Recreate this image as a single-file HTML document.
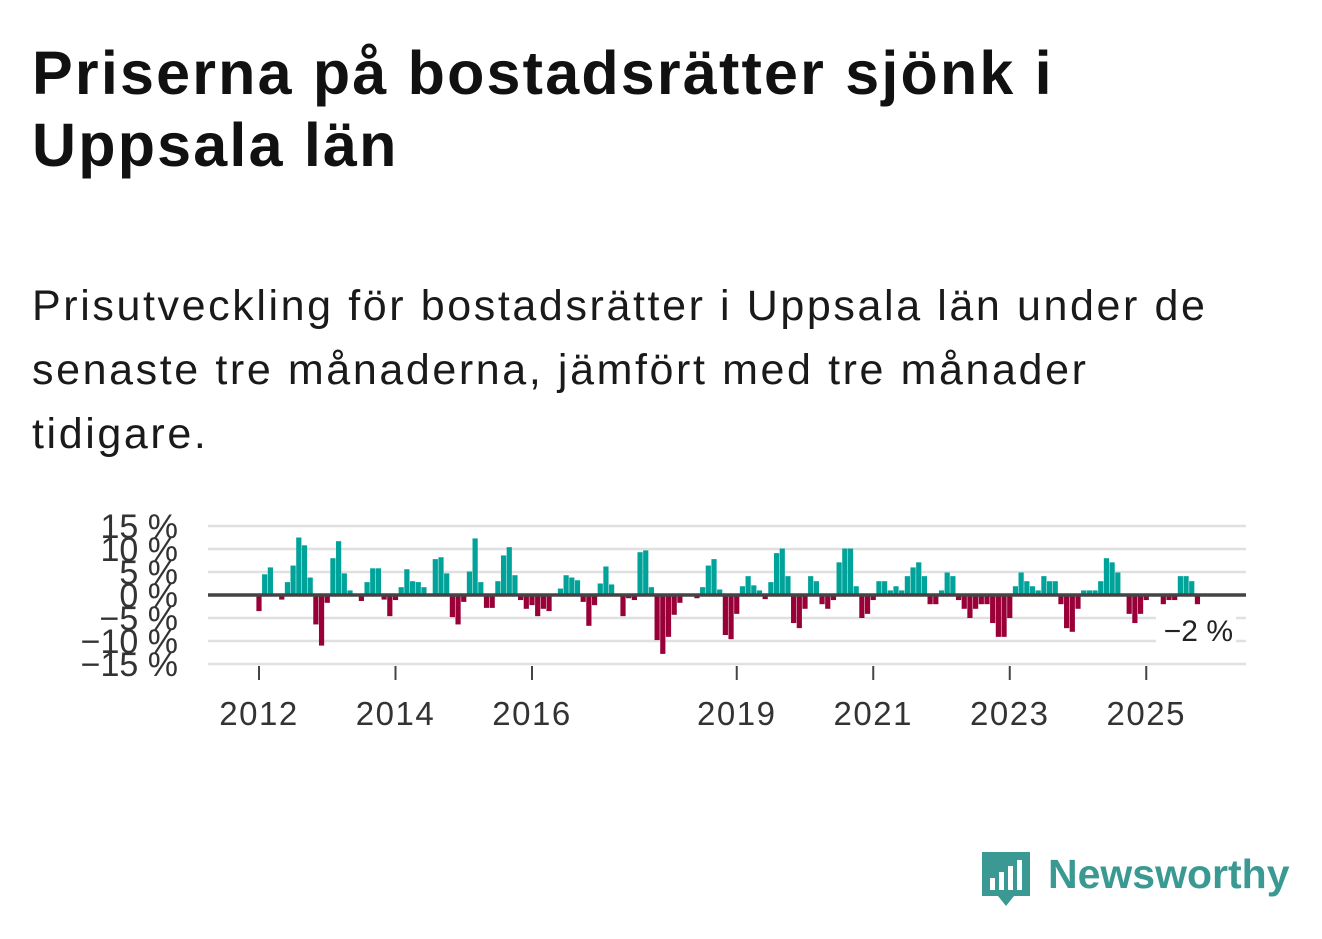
<!DOCTYPE html>
<html><head><meta charset="utf-8">
<style>
body{margin:0;background:#fff;width:1322px;height:939px;overflow:hidden;font-family:"Liberation Sans",sans-serif;color:#111}
#title{position:absolute;left:32px;top:37px;font-size:61px;font-weight:bold;line-height:72px;margin:0;letter-spacing:2.2px;white-space:nowrap}
#sub{position:absolute;left:32px;top:274px;font-size:43px;line-height:64px;margin:0;color:#1a1a1a;letter-spacing:2.6px;white-space:nowrap}
#logo{position:absolute;left:980px;top:848px}
</style></head><body>
<h1 id="title">Priserna på bostadsrätter sjönk i<br>Uppsala län</h1>
<p id="sub">Prisutveckling för bostadsrätter i Uppsala län under de<br>senaste tre månaderna, jämfört med tre månader<br>tidigare.</p>
<svg id="chart" width="1322" height="939" style="position:absolute;left:0;top:0"></svg>
<div id="logo">
<svg width="320" height="64">
<path d="M2 4 h48 v44 h-16 l-8 10 l-8 -10 h-16z" fill="#3a9a93"/>
<rect x="10" y="30" width="5" height="12" fill="#fff"/><rect x="19" y="24" width="5" height="18" fill="#fff"/><rect x="28" y="18" width="5" height="24" fill="#fff"/><rect x="37" y="12" width="5" height="30" fill="#fff"/>
<text x="68" y="40" font-family="Liberation Sans, sans-serif" font-size="41" font-weight="bold" fill="#3a9a93">Newsworthy</text>
</svg></div>
<script>
const values=[-3.5,4.5,6,0,-1,2.8,6.4,12.5,10.8,3.8,-6.4,-11,-1.7,8,11.7,4.7,1,0,-1.3,2.8,5.8,5.8,-1,-4.6,-1.1,1.7,5.6,3,2.8,1.7,0,7.8,8.2,4.7,-4.8,-6.4,-1.5,5.1,12.3,2.8,-2.8,-2.8,3,8.6,10.4,4.3,-1.1,-3,-2.2,-4.6,-3,-3.5,0,1.4,4.3,3.8,3.2,-1.5,-6.7,-2.2,2.5,6.2,2.3,0,-4.6,-0.7,-1.1,9.3,9.7,1.7,-9.8,-12.8,-9.1,-4.3,-1.7,0,0,-0.7,1.7,6.4,7.8,1.2,-8.7,-9.6,-4.1,1.9,4.1,2.1,1,-0.9,2.8,9.1,10.1,4.1,-6.1,-7.2,-3,4.1,3,-2,-3,-1.1,7.1,10.1,10.1,1.9,-5,-4.1,-1.1,3,3,1,1.9,1,4.1,6,7.1,4.1,-2,-2,1,4.9,4.1,-1.1,-3,-5,-3,-2,-2,-6.1,-9.1,-9.1,-5,1.9,4.9,3,1.9,1,4.1,3,3,-2,-7.2,-8,-3,1,1,1,3,8,7.1,4.9,0,-4.1,-6.1,-4.1,-1.1,0,0,-2,-1.1,-1.1,4.1,4.1,3,-2];
const startYear=2012;
const yTicks=[15,10,5,0,-5,-10,-15];
const yTickLabels=["15 %","10 %","5 %","0 %","−5 %","−10 %","−15 %"];
const xTicks=[2012,2014,2016,2019,2021,2023,2025];
const lastLabel="−2 %";
const NS="http://www.w3.org/2000/svg";
const svg=document.getElementById('chart');
const X=t=>259+(t-2012)*68.25;
const Y=v=>595-v*4.6;
function mk(tag,attrs){const e=document.createElementNS(NS,tag);for(const k in attrs)e.setAttribute(k,attrs[k]);svg.appendChild(e);return e;}
yTicks.forEach((v,i)=>{
 if(v!==0){const g=mk('line',{x1:208,x2:1246,y1:Y(v),y2:Y(v),stroke:'#e0e0e0','stroke-width':2.5});
 
 }
 const t=mk('text',{x:178,y:Y(v)+12,'text-anchor':'end','font-size':34,fill:'#333','font-family':'Liberation Sans, sans-serif'});
 t.textContent=yTickLabels[i];
 
 
});
values.forEach((v,i)=>{
 const cx=X(startYear+i/12);
 const r=mk('rect',{x:cx-2.6,width:5.2,y:v>=0?Y(v):Y(0),height:Math.abs(Y(v)-Y(0)),fill:v>=0?'#00a39a':'#990038'});
 
 
});
const z=mk('line',{x1:208,x2:1246,y1:Y(0),y2:Y(0),stroke:'#444','stroke-width':3.5});


xTicks.forEach(yr=>{
 const tk=mk('line',{x1:X(yr),x2:X(yr),y1:666,y2:680,stroke:'#444','stroke-width':2});
 
 
 const t=mk('text',{x:X(yr),y:725,'text-anchor':'middle','font-size':33,'letter-spacing':1.5,fill:'#333','font-family':'Liberation Sans, sans-serif'});
 t.textContent=yr;
 
 
});
const bg=mk('rect',{x:1156,y:614,width:80,height:32,fill:'#fff'});


const lv=mk('text',{x:1233,y:641,'text-anchor':'end','font-size':30,fill:'#222','font-family':'Liberation Sans, sans-serif'});
lv.textContent=lastLabel;


</script>
</body></html>
